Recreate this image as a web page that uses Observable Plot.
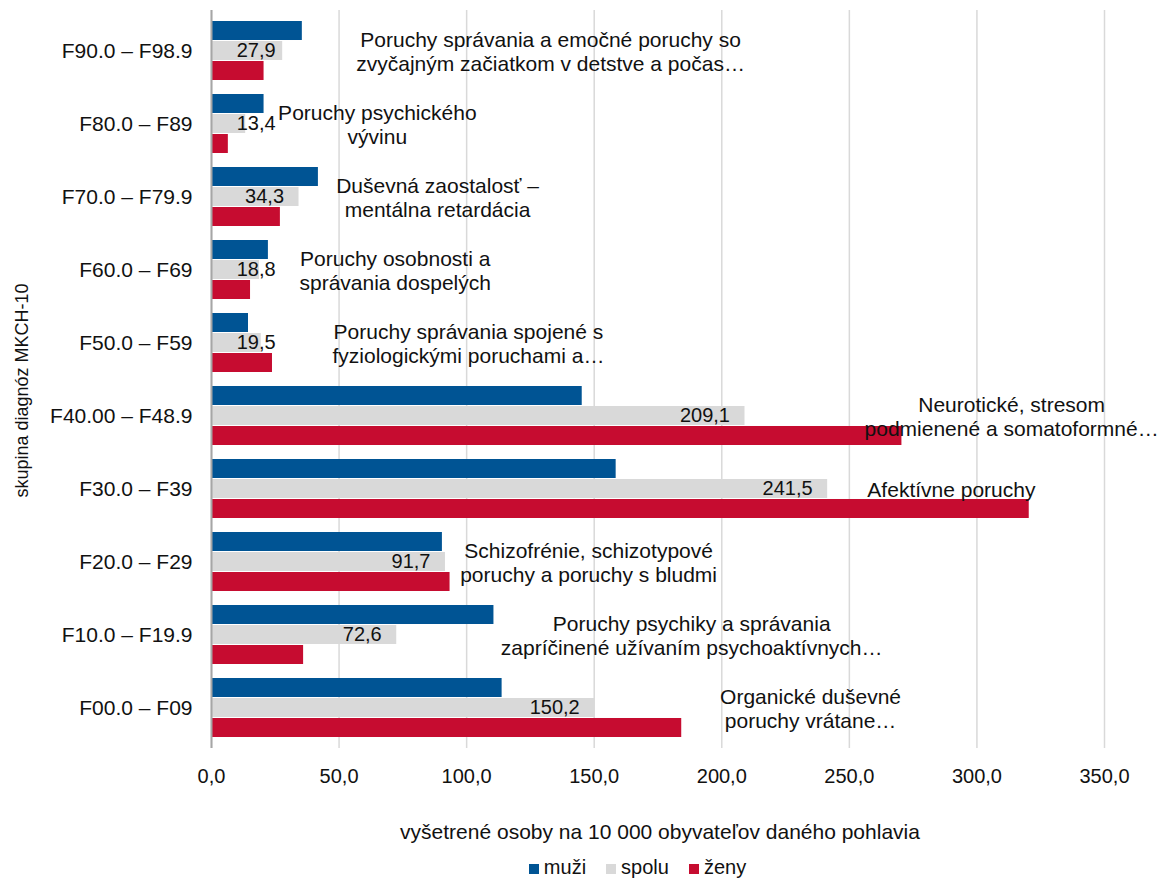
<!DOCTYPE html>
<html>
<head>
<meta charset="utf-8">
<script src="https://cdn.jsdelivr.net/npm/d3@7"></script>
<script src="https://cdn.jsdelivr.net/npm/@observablehq/plot@0.6"></script>
<style>
  html, body { margin: 0; padding: 0; background: #fff; }
  body { font-family: "Liberation Sans", Arial, sans-serif; color: #111; }
  #wrap { position: relative; width: 1161px; height: 879px; overflow: hidden; }
  #chart svg { overflow: visible; }
  #xtitle { position: absolute; top: 820px; left: 10px; width: 1300px; text-align: center; font-size: 21px; white-space: nowrap; }
  #legend { position: absolute; top: 856px; left: 57px; width: 1161px; display: flex; justify-content: center; font-size: 20px; }
  .item { display: flex; align-items: center; margin: 0 10px; }
  .sw { width: 10px; height: 10px; margin-right: 5px; margin-top: 3px; }
</style>
</head>
<body>
<div id="wrap">
  <div id="chart"></div>
  <div id="xtitle"></div>
  <div id="legend"></div>
</div>
<script>
// ---- data ----
const categories = ["F90.0 – F98.9", "F80.0 – F89", "F70.0 – F79.9", "F60.0 – F69", "F50.0 – F59",
                    "F40.00 – F48.9", "F30.0 – F39", "F20.0 – F29", "F10.0 – F19.9", "F00.0 – F09"];
const groupNames = [
  "Poruchy správania a emočné poruchy so\nzvyčajným začiatkom v detstve a počas…",
  "Poruchy psychického\nvývinu",
  "Duševná zaostalosť –\nmentálna retardácia",
  "Poruchy osobnosti a\nsprávania dospelých",
  "Poruchy správania spojené s\nfyziologickými poruchami a…",
  "Neurotické, stresom\npodmienené a somatoformné…",
  "Afektívne poruchy",
  "Schizofrénie, schizotypové\nporuchy a poruchy s bludmi",
  "Poruchy psychiky a správania\nzapríčinené užívaním psychoaktívnych…",
  "Organické duševné\nporuchy vrátane…"
];
const muzi  = [35.6, 20.6, 41.9, 22.3, 14.5, 145.3, 158.6, 90.5, 110.7, 113.9];
const spolu = [27.9, 13.4, 34.3, 18.8, 19.5, 209.1, 241.5, 91.7, 72.6, 150.2];
const zeny  = [20.6, 6.6, 27.0, 15.3, 23.9, 270.6, 320.5, 93.5, 36.1, 184.3];
// where each group's name label is centred, in x-axis units
const nameAt = [132.9, 65, 88.6, 72, 100.7, 313.6, 290, 147.8, 188.2, 234.8];
const seriesNames = ["muži", "spolu", "ženy"];
const xTicks = [0, 50, 100, 150, 200, 250, 300, 350];
const xTitle = "vyšetrené osoby na 10 000 obyvateľov daného pohlavia";
const yTitle = "skupina diagnóz MKCH-10";

// ---- styles ----
const colors = {"muži": "#005494", "spolu": "#d9d9d9", "ženy": "#c60c30"};
const FONT = "Liberation Sans, Arial, sans-serif";

const rows = categories.map((c, i) => ({
  cat: c, muzi: muzi[i], spolu: spolu[i], zeny: zeny[i], name: groupNames[i], nameAt: nameAt[i]
}));

const fmt = d => d.toFixed(1).replace(".", ",");

const chart = Plot.plot({
  width: 1161,
  height: 800,
  marginLeft: 211,
  marginRight: 57,
  marginTop: 10,
  marginBottom: 52,
  style: {fontFamily: FONT, color: "#111", background: "transparent"},
  x: {domain: [0, 350]},
  y: {domain: categories, paddingInner: 0.1875, paddingOuter: 0.09375},
  marks: [
    Plot.gridX(xTicks, {stroke: "#d9d9d9", strokeOpacity: 1, strokeWidth: 1.5}),
    Plot.barX(rows, {y: "cat", x: "muzi", fill: colors["muži"], insetTop: 0, insetBottom: 40}),
    Plot.barX(rows, {y: "cat", x: "spolu", fill: colors["spolu"], insetTop: 20, insetBottom: 20}),
    Plot.barX(rows, {y: "cat", x: "zeny", fill: colors["ženy"], insetTop: 40, insetBottom: 0}),
    Plot.ruleX([0], {stroke: "#a6a6a6", strokeWidth: 2}),
    Plot.text(rows, {
      y: "cat", x: d => Math.max(d.spolu, 31), text: d => fmt(d.spolu),
      textAnchor: "end", dx: -15, fontSize: 20, fill: "#111"
    }),
    Plot.text(rows, {
      y: "cat", x: "nameAt", text: "name", textAnchor: "middle",
      lineHeight: 1.17, fontSize: 21, fill: "#111"
    }),
    Plot.axisY({tickSize: 0, tickPadding: 19, fontSize: 21, label: null}),
    Plot.axisX({ticks: xTicks, tickSize: 0, tickPadding: 20, fontSize: 20, tickFormat: fmt, label: null}),
    Plot.text([yTitle], {frameAnchor: "left", textAnchor: "middle", dx: -189, dy: 11, rotate: -90, fontSize: 18, fill: "#111"})
  ]
});
document.getElementById("chart").appendChild(chart);

document.getElementById("xtitle").textContent = xTitle;
const legend = document.getElementById("legend");
for (const s of seriesNames) {
  const it = document.createElement("div");
  it.className = "item";
  const sw = document.createElement("span");
  sw.className = "sw";
  sw.style.background = colors[s];
  const t = document.createElement("span");
  t.textContent = s;
  it.appendChild(sw); it.appendChild(t);
  legend.appendChild(it);
}
</script>
</body>
</html>
